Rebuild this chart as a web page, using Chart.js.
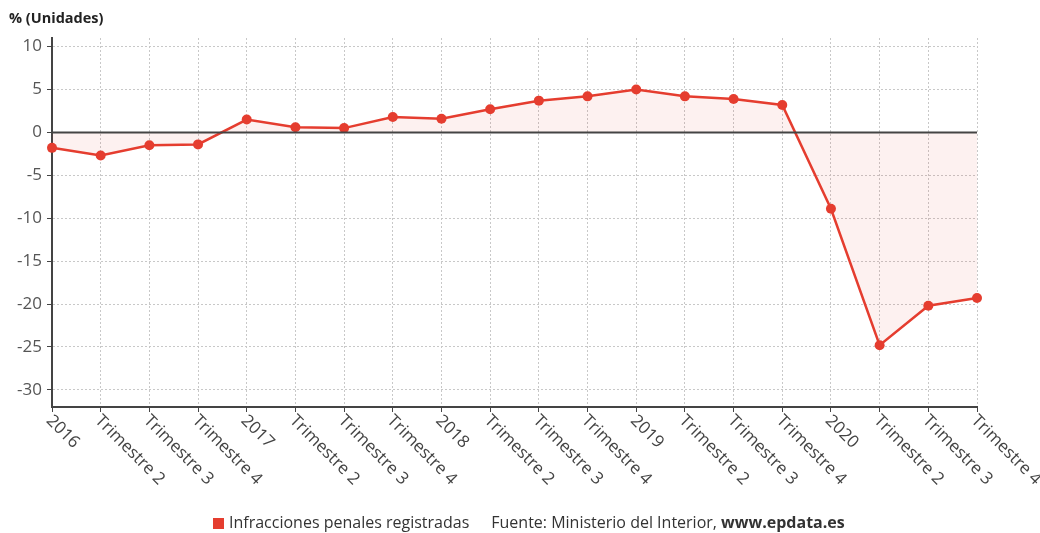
<!DOCTYPE html>
<html>
<head>
<meta charset="utf-8">
<script src="https://cdn.jsdelivr.net/npm/chart.js@4/dist/chart.umd.min.js"></script>
<style>
  body { margin: 0; background: #fff; font-family: "Open Sans", sans-serif; }
  #wrap { position: relative; width: 1040px; height: 533px; }
  #titulo { position: absolute; left: 9px; top: 8px; font-size: 14.5px; font-weight: bold; color: #222; }
  #pie { position: absolute; left: 213px; top: 511px; font-size: 16px; color: #333; white-space: nowrap; }
  #pie .sq { display: inline-block; width: 11px; height: 11px; background: #e53d2f; margin-right: 5px; vertical-align: -1px; }
  #pie .fuente { margin-left: 22px; }
</style>
</head>
<body>
<div id="wrap">
  <canvas id="grafico" width="1040" height="533"></canvas>
  <div id="titulo">% (Unidades)</div>
  <div id="pie"><span class="sq"></span>Infracciones penales registradas<span class="fuente">Fuente: Ministerio del Interior, <b>www.epdata.es</b></span></div>
</div>
<script>
// Datos del gráfico
const etiquetas = ['2016', 'Trimestre 2', 'Trimestre 3', 'Trimestre 4',
                   '2017', 'Trimestre 2', 'Trimestre 3', 'Trimestre 4',
                   '2018', 'Trimestre 2', 'Trimestre 3', 'Trimestre 4',
                   '2019', 'Trimestre 2', 'Trimestre 3', 'Trimestre 4',
                   '2020', 'Trimestre 2', 'Trimestre 3', 'Trimestre 4'];
const infracciones = [-1.8, -2.7, -1.5, -1.4,
                      1.5, 0.6, 0.5, 1.8,
                      1.6, 2.7, 3.7, 4.2,
                      5.0, 4.2, 3.9, 3.2,
                      -8.9, -24.8, -20.2, -19.3];
const ticksY = [10, 5, 0, -5, -10, -15, -20, -25, -30];

const rojo = '#e53d2f';

// Etiquetas del eje X giradas hacia abajo y línea del cero
const extras = {
  id: 'extras',
  afterDatasetsDraw(chart) {
    const ctx = chart.ctx;
    const y = chart.scales.y;
    const y0 = y.getPixelForValue(0);
    ctx.save();
    ctx.strokeStyle = '#444';
    ctx.lineWidth = 2;
    ctx.beginPath();
    ctx.moveTo(chart.chartArea.left, y0);
    ctx.lineTo(chart.chartArea.right, y0);
    ctx.stroke();
    ctx.restore();
  },
  afterDraw(chart) {
    const ctx = chart.ctx;
    const x = chart.scales.x;
    const base = chart.chartArea.bottom;
    ctx.save();
    ctx.font = '17px "Open Sans"';
    ctx.fillStyle = '#444';
    ctx.textAlign = 'left';
    ctx.textBaseline = 'middle';
    etiquetas.forEach((t, i) => {
      const px = x.getPixelForTick(i);
      ctx.save();
      ctx.translate(px - 3, base + 11);
      ctx.rotate(Math.PI / 4);
      ctx.fillText(t, 0, 0);
      ctx.restore();
    });
    ctx.restore();
  }
};

const grafico = new Chart(document.getElementById('grafico'), {
  type: 'line',
  data: {
    labels: etiquetas,
    datasets: [{
      label: 'Infracciones penales registradas',
      data: infracciones,
      borderColor: rojo,
      backgroundColor: 'rgba(229, 61, 47, 0.07)',
      fill: 'origin',
      borderWidth: 2.5,
      pointRadius: 5,
      pointBorderWidth: 0,
      pointBackgroundColor: rojo,
      tension: 0,
      clip: false
    }]
  },
  options: {
    responsive: false,
    animation: false,
    layout: { padding: { left: 0, top: 38, right: 63, bottom: 0 } },
    plugins: { legend: { display: false }, tooltip: { enabled: false } },
    scales: {
      x: {
        offset: false,
        ticks: { display: false },
        grid: { color: '#c8c8c8', lineWidth: 1, tickLength: 5, tickColor: '#444', tickBorderDash: [] },
        border: { color: '#444', width: 2, dash: [2, 2] },
        afterFit(s) { s.height = 126; }
      },
      y: {
        min: -32,
        max: 11,
        ticks: { stepSize: 5, color: '#555', font: { family: 'Open Sans', size: 17 }, padding: 5 },
        afterBuildTicks(s) { s.ticks = ticksY.slice().reverse().map(v => ({ value: v })); },
        grid: { color: '#c8c8c8', lineWidth: 1, tickLength: 5, tickColor: '#444', tickBorderDash: [] },
        border: { color: '#444', width: 2, dash: [2, 2] },
        afterFit(s) { s.width = 52; }
      }
    }
  },
  plugins: [extras]
});
</script>
</body>
</html>
